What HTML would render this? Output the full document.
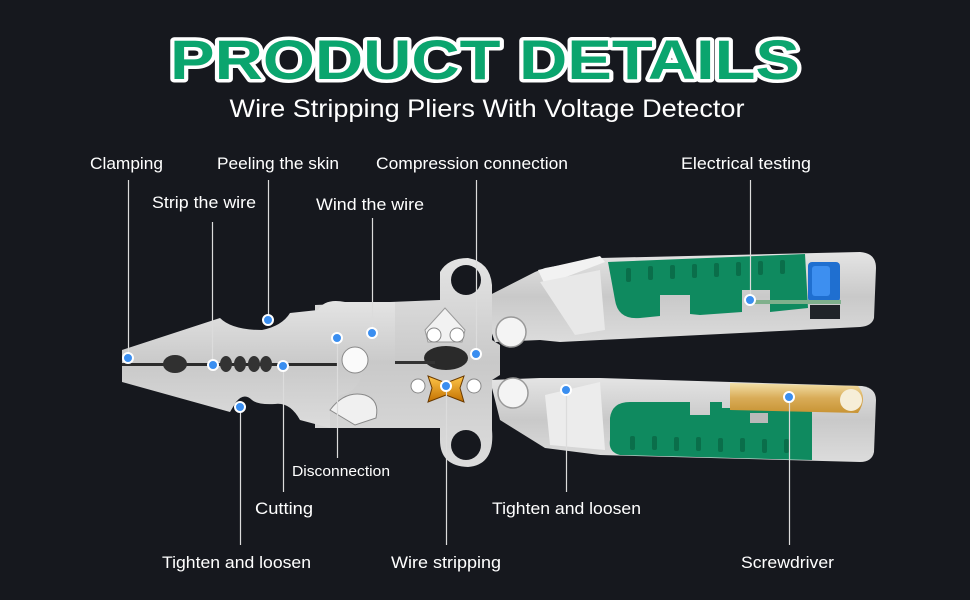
<!DOCTYPE html>
<html><head><meta charset="utf-8"><style>
html,body{margin:0;padding:0;background:#16181e;}
svg{display:block}
text{font-family:"Liberation Sans",sans-serif;}
</style></head><body>
<svg width="970" height="600" viewBox="0 0 970 600" xmlns="http://www.w3.org/2000/svg">
<defs>
<linearGradient id="steel" x1="0" y1="0" x2="0" y2="1">
<stop offset="0" stop-color="#e4e4e4"/><stop offset="0.5" stop-color="#c9c9c9"/><stop offset="1" stop-color="#dcdcdc"/>
</linearGradient>
<linearGradient id="gold" x1="0" y1="0" x2="0" y2="1">
<stop offset="0" stop-color="#f3e0a8"/><stop offset="0.5" stop-color="#d9ac58"/><stop offset="1" stop-color="#c89434"/>
</linearGradient>
<linearGradient id="bow" x1="0" y1="0" x2="0" y2="1">
<stop offset="0" stop-color="#ffc64a"/><stop offset="1" stop-color="#c27000"/>
</linearGradient>
</defs>
<rect width="970" height="600" fill="#16181e"/>

<!-- title -->
<text x="485" y="79" text-anchor="middle" font-size="56" font-weight="bold" textLength="630" lengthAdjust="spacingAndGlyphs" fill="#0ba56e" stroke="#ffffff" stroke-width="7" stroke-linejoin="round" paint-order="stroke">PRODUCT DETAILS</text>
<text x="487" y="117" text-anchor="middle" font-size="25" fill="#ffffff" textLength="515" lengthAdjust="spacingAndGlyphs">Wire Stripping Pliers With Voltage Detector</text>

<!-- upper arm / handle -->
<path d="M480,300 L535,272 L545,268 L600,258 L860,252 Q876,253 876,268 L874,318 Q872,326 860,327 L600,340 L560,342 L540,340 L495,342 Z" fill="url(#steel)"/>
<path d="M538,270 L600,256 L605,262 L545,285 Z" fill="#f2f2f2"/>
<path d="M540,282 L600,270 L605,330 L575,335 Z" fill="#e8e8e8"/>
<path d="M608,262 L805,254 L808,308 L770,312 L770,290 L742,290 L742,312 L700,315 L690,314 L690,295 L660,295 L660,316 L640,318 Q618,320 615,300 Z" fill="#0f8a5f"/>
<g fill="#0a6e4a"><rect x="626" y="268" width="5" height="14" rx="2"/><rect x="648" y="266" width="5" height="14" rx="2"/><rect x="670" y="265" width="5" height="14" rx="2"/><rect x="692" y="264" width="5" height="14" rx="2"/><rect x="714" y="263" width="5" height="14" rx="2"/><rect x="736" y="262" width="5" height="14" rx="2"/><rect x="758" y="261" width="5" height="14" rx="2"/><rect x="780" y="260" width="5" height="14" rx="2"/></g>
<rect x="808" y="262" width="32" height="40" rx="4" fill="#1f6fd0"/>
<rect x="812" y="266" width="18" height="30" rx="3" fill="#3d8ff0"/>
<rect x="810" y="305" width="30" height="14" fill="#202428"/>
<rect x="745" y="300" width="96" height="4" fill="#7fb08c"/>

<!-- lower arm / handle -->
<path d="M490,380 L540,378 L600,378 L862,386 Q876,388 876,400 L874,452 Q872,462 860,462 L600,455 L545,448 L500,420 Z" fill="url(#steel)"/>
<path d="M545,395 L600,382 L605,450 L550,445 Z" fill="#ececec"/>
<path d="M610,418 Q612,402 630,402 L690,402 L690,415 L710,415 L710,402 L722,402 L722,408 L770,408 L770,402 L812,404 L812,460 L620,455 Q608,452 610,440 Z" fill="#0f8a5f"/>
<g fill="#0a6e4a"><rect x="630" y="436" width="5" height="14" rx="2"/><rect x="652" y="436" width="5" height="14" rx="2"/><rect x="674" y="437" width="5" height="14" rx="2"/><rect x="696" y="437" width="5" height="14" rx="2"/><rect x="718" y="438" width="5" height="14" rx="2"/><rect x="740" y="438" width="5" height="14" rx="2"/><rect x="762" y="439" width="5" height="14" rx="2"/><rect x="784" y="439" width="5" height="14" rx="2"/></g>
<rect x="750" y="413" width="18" height="10" fill="#b9b9b9"/>
<path d="M730,383 L858,386 Q868,398 858,413 L730,410 Z" fill="url(#gold)"/>
<circle cx="851" cy="400" r="11" fill="#f6eed8"/>

<!-- central plate -->
<path d="M440,300 L440,272 Q448,258 468,258 Q490,262 492,285 L492,340 L500,345 L500,375 L492,380 L492,430 Q495,465 468,467 Q440,466 440,440 L440,428 L315,428 L315,305 L440,300 Z" fill="url(#steel)"/>
<circle cx="466" cy="280" r="15" fill="#16181e"/>
<circle cx="466" cy="445" r="15" fill="#16181e"/>
<circle cx="511" cy="332" r="15" fill="#f4f4f4" stroke="#999" stroke-width="1.5"/>
<circle cx="513" cy="393" r="15" fill="#f4f4f4" stroke="#999" stroke-width="1.5"/>
<path d="M425,330 L445,308 L465,330 L462,342 L428,342 Z" fill="#f2f2f2" stroke="#9a9a9a"/>
<circle cx="434" cy="335" r="7" fill="#fff" stroke="#888"/>
<circle cx="457" cy="335" r="7" fill="#fff" stroke="#888"/>
<ellipse cx="446" cy="358" rx="22" ry="12" fill="#2a2a2a"/>
<path d="M428,376 L446,383 L464,376 L460,388 L464,402 L446,395 L428,402 L432,388 Z" fill="url(#bow)" stroke="#6a3a00"/>
<circle cx="418" cy="386" r="7" fill="#fff" stroke="#888"/>
<circle cx="474" cy="386" r="7" fill="#fff" stroke="#888"/>
<rect x="395" y="361" width="40" height="3" fill="#333"/>
<circle cx="370" cy="325" r="5" fill="#333"/><circle cx="380" cy="325" r="5" fill="#333"/><circle cx="370" cy="335" r="5" fill="#333"/><circle cx="380" cy="335" r="5" fill="#333"/>

<!-- jaws -->
<path d="M122,350 L220,318 Q232,330 262,330 Q282,326 290,313 L318,310 Q325,298 345,302 L395,302 L395,360 L365,360 Q362,392 340,395 L330,410 L330,428 L300,420 Q290,402 275,404 Q258,405 252,400 Q244,392 236,402 L230,412 L122,382 Z" fill="url(#steel)"/>
<rect x="122" y="363" width="215" height="3" fill="#2b2b2b"/>
<ellipse cx="175" cy="364" rx="12" ry="9" fill="#303030"/>
<ellipse cx="226" cy="364" rx="6" ry="8" fill="#333"/><ellipse cx="240" cy="364" rx="6" ry="8" fill="#333"/><ellipse cx="254" cy="364" rx="6" ry="8" fill="#333"/><ellipse cx="266" cy="364" rx="6" ry="8" fill="#333"/>
<circle cx="355" cy="360" r="13" fill="#fafafa" stroke="#888"/>
<path d="M330,410 Q345,390 365,395 Q380,400 376,418 L355,425 Z" fill="#f0f0f0" stroke="#888"/>

<!-- leader lines -->
<g stroke="#dcdcdc" stroke-width="1.2">
<line x1="128.5" y1="180" x2="128.5" y2="358"/>
<line x1="212.5" y1="222" x2="212.5" y2="365"/>
<line x1="268.5" y1="180" x2="268.5" y2="320"/>
<line x1="372.5" y1="218" x2="372.5" y2="333"/>
<line x1="476.5" y1="180" x2="476.5" y2="354"/>
<line x1="750.5" y1="180" x2="750.5" y2="300"/>
<line x1="337.5" y1="338" x2="337.5" y2="458"/>
<line x1="283.5" y1="366" x2="283.5" y2="492"/>
<line x1="240.5" y1="407" x2="240.5" y2="545"/>
<line x1="446.5" y1="386" x2="446.5" y2="545"/>
<line x1="566.5" y1="390" x2="566.5" y2="492"/>
<line x1="789.5" y1="397" x2="789.5" y2="545"/>
</g>
<g fill="#3a8ef0" stroke="#ffffff" stroke-width="2">
<circle cx="128" cy="358" r="5"/><circle cx="213" cy="365" r="5"/><circle cx="268" cy="320" r="5"/>
<circle cx="372" cy="333" r="5"/><circle cx="476" cy="354" r="5"/><circle cx="750" cy="300" r="5"/>
<circle cx="337" cy="338" r="5"/><circle cx="283" cy="366" r="5"/><circle cx="240" cy="407" r="5"/>
<circle cx="446" cy="386" r="5"/><circle cx="566" cy="390" r="5"/><circle cx="789" cy="397" r="5"/>
</g>

<!-- labels -->
<g fill="#ffffff" font-size="16.5">
<text x="90" y="169" textLength="73" lengthAdjust="spacingAndGlyphs">Clamping</text>
<text x="217" y="169" textLength="122" lengthAdjust="spacingAndGlyphs">Peeling the skin</text>
<text x="376" y="169" textLength="192" lengthAdjust="spacingAndGlyphs">Compression connection</text>
<text x="681" y="169" textLength="130" lengthAdjust="spacingAndGlyphs">Electrical testing</text>
<text x="152" y="208" textLength="104" lengthAdjust="spacingAndGlyphs">Strip the wire</text>
<text x="316" y="210" textLength="108" lengthAdjust="spacingAndGlyphs">Wind the wire</text>
<text x="292" y="476" font-size="14.5" textLength="98" lengthAdjust="spacingAndGlyphs">Disconnection</text>
<text x="255" y="514" textLength="58" lengthAdjust="spacingAndGlyphs">Cutting</text>
<text x="492" y="514" textLength="149" lengthAdjust="spacingAndGlyphs">Tighten and loosen</text>
<text x="162" y="568" textLength="149" lengthAdjust="spacingAndGlyphs">Tighten and loosen</text>
<text x="391" y="568" textLength="110" lengthAdjust="spacingAndGlyphs">Wire stripping</text>
<text x="741" y="568" textLength="93" lengthAdjust="spacingAndGlyphs">Screwdriver</text>
</g>
</svg>
</body></html>
